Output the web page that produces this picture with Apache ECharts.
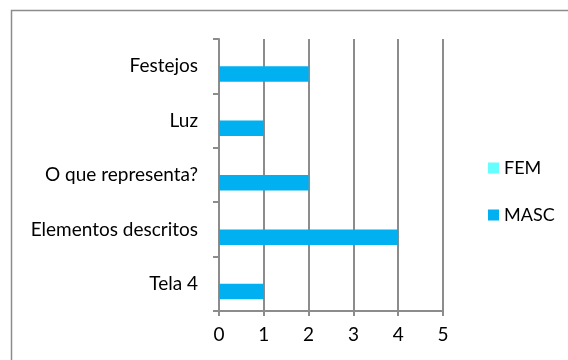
<!DOCTYPE html>
<html>
<head>
<meta charset="utf-8">
<script src="https://cdn.jsdelivr.net/npm/echarts@6/dist/echarts.min.js"></script>
<style>
  html, body { margin: 0; padding: 0; background: #fff; }
  #chart { width: 568px; height: 360px; }
</style>
</head>
<body>
<div id="chart"></div>
<script>
// Categories listed bottom to top
const categories = ['Tela 4', 'Elementos descritos', 'O que representa?', 'Luz', 'Festejos'];
const femValues = [0, 0, 0, 0, 0];
const mascValues = [1, 4, 2, 1, 2];
const xTicks = [0, 1, 2, 3, 4, 5];

const FONT = 'Lato, "Open Sans", sans-serif';
const FONT_SIZE = 19;
const GRID_COLOR = '#8c8c8c';

const chart = echarts.init(document.getElementById('chart'), null, { renderer: 'canvas' });

chart.setOption({
  backgroundColor: '#ffffff',
  animation: false,
  graphic: [{
    type: 'rect',
    shape: { x: 11.5, y: 10.5, width: 700, height: 500 },
    style: { fill: 'none', stroke: '#8c8c8c', lineWidth: 1.5 },
    silent: true,
    z: -1
  }],
  grid: { left: 219, top: 39, width: 224, height: 272, containLabel: false },
  legend: {
    orient: 'vertical',
    left: 488,
    top: 159,
    padding: 0,
    itemWidth: 11,
    itemHeight: 11,
    itemGap: 29,
    icon: 'rect',
    textStyle: { fontFamily: FONT, fontSize: 18, color: '#000' },
    data: ['FEM', 'MASC']
  },
  xAxis: {
    type: 'value',
    min: xTicks[0],
    max: xTicks[xTicks.length - 1],
    interval: 1,
    axisLine: { show: true, lineStyle: { color: GRID_COLOR, width: 2 } },
    axisTick: { show: true, length: 5, lineStyle: { color: GRID_COLOR, width: 2 } },
    axisLabel: { fontFamily: FONT, fontSize: FONT_SIZE, color: '#000', margin: 14 },
    splitLine: { show: true, lineStyle: { color: GRID_COLOR, width: 2 } }
  },
  yAxis: {
    type: 'category',
    data: categories,
    axisLine: { show: true, lineStyle: { color: GRID_COLOR, width: 2 } },
    axisTick: { show: true, length: 6, alignWithLabel: false, lineStyle: { color: GRID_COLOR, width: 2 } },
    axisLabel: { fontFamily: FONT, fontSize: FONT_SIZE, color: '#000', margin: 21 },
    splitLine: { show: false }
  },
  series: [
    {
      name: 'FEM',
      type: 'bar',
      data: femValues,
      barWidth: 15.5,
      barGap: '0%',
      barCategoryGap: '43%',
      itemStyle: { color: '#66ffff' }
    },
    {
      name: 'MASC',
      type: 'bar',
      data: mascValues,
      barWidth: 15.5,
      barGap: '0%',
      itemStyle: { color: '#00b0f0' }
    }
  ]
});
</script>
</body>
</html>
